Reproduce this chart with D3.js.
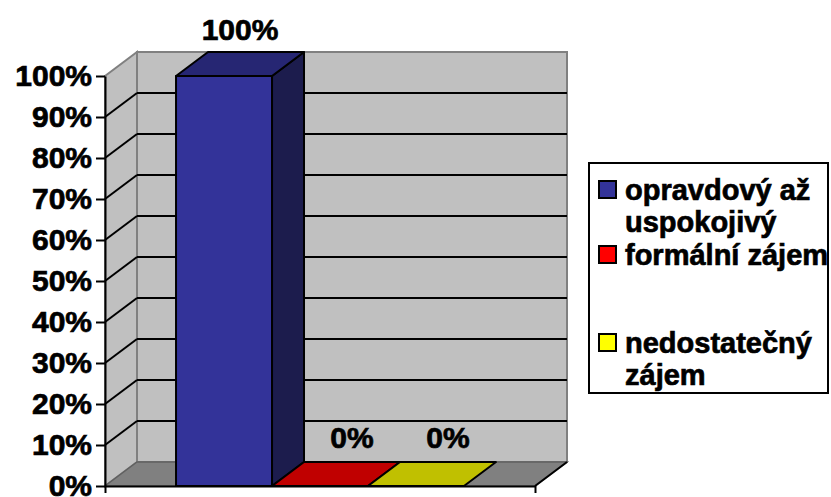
<!DOCTYPE html>
<html><head><meta charset="utf-8">
<script src="https://cdn.jsdelivr.net/npm/d3@7/dist/d3.min.js"></script>
<style>
html,body{margin:0;padding:0;background:#fff;}
svg{display:block;font-family:"Liberation Sans",Arial,sans-serif;font-weight:bold;}
</style></head>
<body>
<svg id="c" width="831" height="497"></svg>
<script>
// ---- data ----
const series = ["opravdový až uspokojivý", "formální zájem", "nedostatečný zájem"];
const legendLines = [["opravdový až", "uspokojivý"], ["formální zájem"], ["nedostatečný", "zájem"]];
const values = [1.0, 0.0, 0.0];
const yTicks = [0, 0.1, 0.2, 0.3, 0.4, 0.5, 0.6, 0.7, 0.8, 0.9, 1.0];

// ---- styles ----
const frontColors = ["#333399", "#ff0000", "#ffff00"];
const topColors = ["#262673", "#c00000", "#c0c000"];
const sideColors = ["#1c1c4d", "#800000", "#808000"];
const textStroke = 0.7;

const svg = d3.select("#c");
const L = 105, R = 535, B = 486, T = 76;
const DX = 32, DY = -24;

const y = d3.scaleLinear().domain([0, 1]).range([B, T]);
const xAxisScale = d3.scaleLinear().domain([0, 1]).range([L, R]);
const x = d3.scaleBand().domain(series).range([L, R]).paddingInner(0).paddingOuter(0.74);

const pts = a => a.map(p => p.join(",")).join(" ");

// back wall
svg.append("rect").attr("x", L + DX).attr("y", T + DY).attr("width", R - L).attr("height", B - T)
  .attr("fill", "#c0c0c0").attr("stroke", "#808080").attr("stroke-width", 2);
// left wall
svg.append("polygon").attr("points", pts([[L, T], [L + DX, T + DY], [L + DX, B + DY], [L, B]]))
  .attr("fill", "#c0c0c0").attr("stroke", "#808080").attr("stroke-width", 2);
// floor
svg.append("polygon").attr("points", pts([[L, B], [R, B], [R + DX, B + DY], [L + DX, B + DY]]))
  .attr("fill", "#808080").attr("stroke", "#606060").attr("stroke-width", 1.5);
svg.append("line").attr("x1", R).attr("y1", B).attr("x2", R + DX).attr("y2", B + DY)
  .attr("stroke", "#000").attr("stroke-width", 2);

// gridlines (10%..90%)
const gridVals = yTicks.filter(v => v > 0 && v < 1);
const g = svg.append("g");
g.selectAll("line.bw").data(gridVals).join("line")
  .attr("x1", L + DX).attr("x2", R + DX)
  .attr("y1", d => y(d) + DY).attr("y2", d => y(d) + DY)
  .attr("stroke", "#000").attr("stroke-width", 2);
g.selectAll("line.lw").data(gridVals).join("line")
  .attr("x1", L).attr("x2", L + DX)
  .attr("y1", d => y(d)).attr("y2", d => y(d) + DY)
  .attr("stroke", "#000").attr("stroke-width", 2);

// y axis
const yAxis = svg.append("g").attr("transform", `translate(${L},0)`)
  .call(d3.axisLeft(y).tickValues(yTicks).tickFormat(d3.format(".0%")).tickSize(9).tickPadding(4).tickSizeOuter(0));
yAxis.selectAll("path,line").attr("stroke", "#000").attr("stroke-width", 2);
yAxis.selectAll("text").attr("font-size", 30).attr("font-weight", "bold").attr("fill", "#000")
  .attr("stroke", "#000").attr("stroke-width", textStroke)
  .attr("font-family", "'Liberation Sans', Arial, sans-serif");

// x axis
const xAxis = svg.append("g").attr("transform", `translate(0,${B})`)
  .call(d3.axisBottom(xAxisScale).tickValues([0, 1]).tickFormat("").tickSize(7).tickSizeOuter(0));
xAxis.selectAll("path,line").attr("stroke", "#000").attr("stroke-width", 2);

// bars
const bars = svg.append("g");
series.forEach((s, i) => {
  const x0 = x(s), x1 = x(s) + x.bandwidth(), yt = y(values[i]);
  const gb = bars.append("g").attr("stroke", "#000").attr("stroke-width", 2).attr("stroke-linejoin", "round");
  if (values[i] > 0) {
    gb.append("polygon").attr("points", pts([[x1, yt], [x1 + DX, yt + DY], [x1 + DX, B + DY], [x1, B]]))
      .attr("fill", sideColors[i]);
    gb.append("rect").attr("x", x0).attr("y", yt).attr("width", x1 - x0).attr("height", B - yt)
      .attr("fill", frontColors[i]);
  }
  gb.append("polygon").attr("points", pts([[x0, yt], [x1, yt], [x1 + DX, yt + DY], [x0 + DX, yt + DY]]))
    .attr("fill", topColors[i]);
});

// value labels
svg.append("g").selectAll("text").data(values).join("text")
  .attr("x", (d, i) => x(series[i]) + x.bandwidth() / 2 + DX / 2 + (d > 0 ? 0 : 16))
  .attr("y", d => y(d) + DY - (d > 0 ? 12 : 14))
  .attr("text-anchor", "middle").attr("font-size", 30).attr("font-weight", "bold").attr("fill", "#000")
  .attr("stroke", "#000").attr("stroke-width", textStroke)
  .text(d => d3.format(".0%")(d));

// legend
const lg = svg.append("g");
lg.append("rect").attr("x", 589).attr("y", 163).attr("width", 239).attr("height", 230)
  .attr("fill", "#fff").attr("stroke", "#000").attr("stroke-width", 2);
const baselines = [200, 265, 353];
const lineH = 32;
legendLines.forEach((lines, i) => {
  const by = baselines[i];
  lg.append("rect").attr("x", 599).attr("y", by - 19).attr("width", 17).attr("height", 17)
    .attr("fill", frontColors[i]).attr("stroke", "#000").attr("stroke-width", 2);
  lines.forEach((t, j) => {
    lg.append("text").attr("x", 625).attr("y", by + j * lineH)
      .attr("font-size", 29).attr("font-weight", "bold").attr("fill", "#000")
      .attr("stroke", "#000").attr("stroke-width", textStroke).text(t);
  });
});
</script>
</body></html>
